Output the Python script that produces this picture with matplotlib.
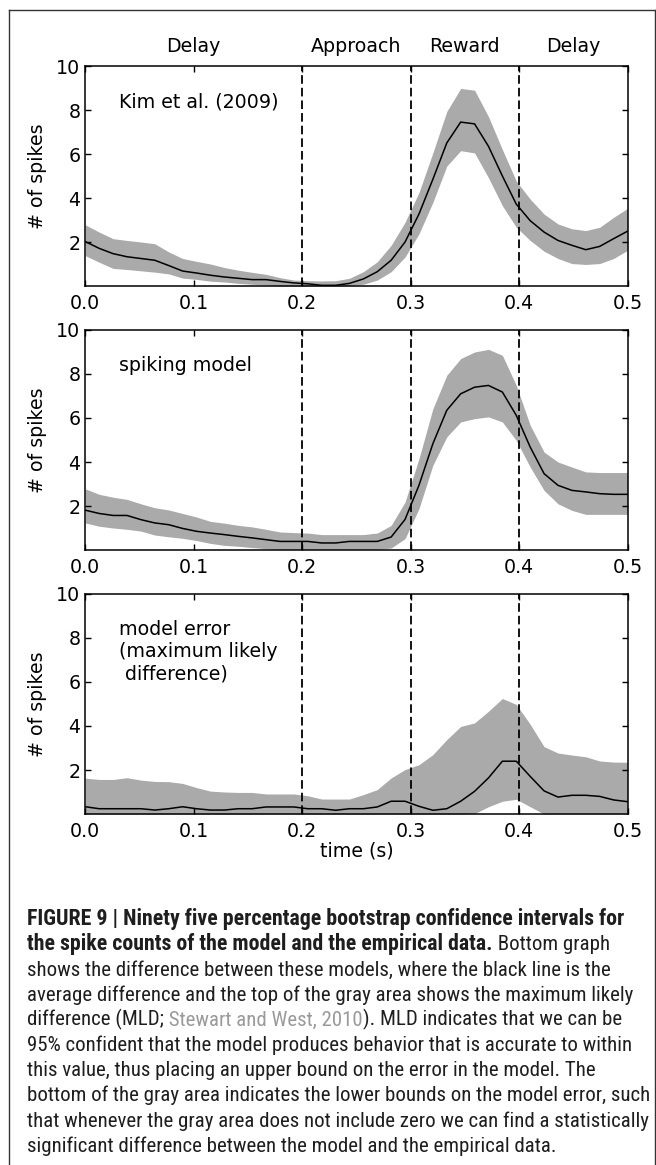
import numpy as np
import matplotlib
matplotlib.use("Agg")
import matplotlib.pyplot as plt
from matplotlib.lines import Line2D
import matplotlib.transforms as mtransforms
from matplotlib import font_manager as fm

plt.rcParams['font.family'] = ['DejaVu Sans']
plt.rcParams['lines.scale_dashes'] = False

# ---------------- data ----------------
time_s = np.linspace(0.0, 0.5, 40)

kim_mean = [2.02, 1.71, 1.47, 1.33, 1.25, 1.17, 0.93, 0.68, 0.59, 0.49,
            0.41, 0.35, 0.29, 0.29, 0.21, 0.14, 0.10, 0.03, 0.03, 0.12,
            0.32, 0.65, 1.17, 2.00, 3.27, 4.85, 6.50, 7.45, 7.37, 6.35,
            5.00, 3.72, 2.97, 2.45, 2.07, 1.85, 1.65, 1.80, 2.15, 2.49]
kim_upper = [2.78, 2.45, 2.15, 2.07, 2.00, 1.92, 1.55, 1.25, 1.12, 1.00,
             0.84, 0.72, 0.62, 0.53, 0.38, 0.27, 0.24, 0.23, 0.24, 0.35,
             0.65, 1.10, 1.85, 2.90, 4.25, 6.05, 7.93, 8.98, 8.90, 7.70,
             6.20, 4.77, 3.95, 3.27, 2.82, 2.60, 2.52, 2.67, 3.12, 3.53]
kim_lower = [1.38, 1.08, 0.80, 0.75, 0.69, 0.63, 0.55, 0.36, 0.30, 0.22,
             0.18, 0.12, 0.08, 0.05, 0.00, 0.00, 0.00, 0.00, 0.00, 0.02,
             0.08, 0.27, 0.65, 1.32, 2.37, 3.80, 5.45, 6.15, 6.05, 4.92,
             3.65, 2.67, 2.07, 1.58, 1.25, 1.02, 0.98, 1.02, 1.25, 1.62]

model_mean = [1.81, 1.66, 1.57, 1.57, 1.38, 1.23, 1.15, 0.98, 0.85, 0.77,
              0.70, 0.62, 0.55, 0.47, 0.39, 0.39, 0.39, 0.32, 0.32, 0.39,
              0.39, 0.39, 0.59, 1.39, 2.94, 4.83, 6.35, 7.10, 7.40, 7.48,
              7.18, 6.12, 4.68, 3.47, 2.94, 2.71, 2.64, 2.56, 2.53, 2.53]
model_upper = [2.78, 2.53, 2.40, 2.30, 2.10, 1.92, 1.82, 1.66, 1.50, 1.30,
               1.22, 1.12, 1.05, 0.94, 0.82, 0.79, 0.77, 0.70, 0.70, 0.70,
               0.70, 0.77, 1.12, 2.18, 4.15, 6.42, 7.94, 8.70, 9.00, 9.12,
               8.85, 7.48, 5.67, 4.45, 4.00, 3.77, 3.55, 3.52, 3.52, 3.52]
model_lower = [1.23, 1.08, 1.00, 0.94, 0.86, 0.68, 0.60, 0.53, 0.43, 0.30,
               0.21, 0.17, 0.11, 0.06, 0.03, 0.03, 0.03, 0.03, 0.03, 0.03,
               0.03, 0.03, 0.09, 0.52, 1.88, 3.85, 5.14, 5.82, 5.97, 6.05,
               5.82, 4.98, 3.77, 2.71, 2.10, 1.80, 1.62, 1.62, 1.62, 1.62]

error_mean = [0.33, 0.24, 0.24, 0.24, 0.24, 0.18, 0.24, 0.33, 0.24, 0.18,
              0.18, 0.24, 0.24, 0.32, 0.32, 0.32, 0.24, 0.24, 0.17, 0.24,
              0.24, 0.32, 0.58, 0.58, 0.35, 0.17, 0.24, 0.58, 1.03, 1.64,
              2.40, 2.40, 1.71, 1.05, 0.77, 0.85, 0.85, 0.80, 0.64, 0.56]
error_upper = [1.63, 1.57, 1.57, 1.65, 1.54, 1.48, 1.47, 1.39, 1.20, 1.04,
               1.00, 0.98, 0.98, 0.91, 0.91, 0.91, 0.83, 0.68, 0.68, 0.68,
               0.88, 1.11, 1.64, 2.02, 2.24, 2.70, 3.38, 3.98, 4.14, 4.67,
               5.25, 4.98, 4.08, 3.06, 2.77, 2.68, 2.60, 2.41, 2.36, 2.35]
error_lower = [0.00, 0.00, 0.00, 0.00, 0.00, 0.00, 0.00, 0.00, 0.00, 0.00,
               0.00, 0.00, 0.00, 0.00, 0.00, 0.00, 0.00, 0.00, 0.00, 0.00,
               0.00, 0.00, 0.00, 0.00, 0.00, 0.00, 0.00, 0.00, 0.02, 0.33,
               0.58, 0.67, 0.33, 0.00, 0.00, 0.00, 0.00, 0.00, 0.00, 0.00]

panel_titles = ['Kim et al. (2009)', 'spiking model',
                'model error\n(maximum likely\n difference)']
phase_labels = ['Delay', 'Approach', 'Reward', 'Delay']
phase_centers = [0.1, 0.25, 0.35, 0.45]
phase_bounds = [0.2, 0.3, 0.4]
xticks = [0.0, 0.1, 0.2, 0.3, 0.4, 0.5]
yticks = [2, 4, 6, 8, 10]
ylabel = '# of spikes'
xlabel = 'time (s)'

caption_lines = [
    [("FIGURE 9 | Ninety five percentage bootstrap confidence intervals for", 'bold', 'k')],
    [("the spike counts of the model and the empirical data.", 'bold', 'k'),
     (" Bottom graph", 'normal', 'k')],
    [("shows the difference between these models, where the black line is the", 'normal', 'k')],
    [("average difference and the top of the gray area shows the maximum likely", 'normal', 'k')],
    [("difference (MLD;", 'normal', 'k'), (" Stewart and West, 2010", 'normal', 'g'),
     ("). MLD indicates that we can be", 'normal', 'k')],
    [("95% confident that the model produces behavior that is accurate to within", 'normal', 'k')],
    [("this value, thus placing an upper bound on the error in the model. The", 'normal', 'k')],
    [("bottom of the gray area indicates the lower bounds on the model error, such", 'normal', 'k')],
    [("that whenever the gray area does not include zero we can find a statistically", 'normal', 'k')],
    [("significant difference between the model and the empirical data.", 'normal', 'k')],
]

# ---------------- layout ----------------
W, H = 656, 1165
fig = plt.figure(figsize=(W / 100, H / 100), dpi=100)

AX_L, AX_R = 85.3, 627.5
panel_tb = [(66, 286), (330, 550), (594, 814)]
FS = 13.7
BAND = '#aaaaaa'

series = [(kim_mean, kim_upper, kim_lower),
          (model_mean, model_upper, model_lower),
          (error_mean, error_upper, error_lower)]

axes = []
for k, ((top, bot), (m, up, lo)) in enumerate(zip(panel_tb, series)):
    ax = fig.add_axes([AX_L / W, 1 - bot / H, (AX_R - AX_L) / W, (bot - top) / H])
    axes.append(ax)
    ax.fill_between(time_s, lo, up, color=BAND, lw=0, zorder=1)
    ax.plot(time_s, m, color='k', lw=1.1, zorder=3)
    for b in phase_bounds:
        ax.axvline(b, color='k', lw=1.3, dashes=(6.2, 2.9), zorder=4)
    ax.set_xlim(0, 0.5)
    ax.set_ylim(0, 10)
    ax.set_xticks(xticks)
    ax.set_xticklabels(['%.1f' % v for v in xticks])
    ax.set_yticks(yticks)
    ax.set_yticklabels([str(v) for v in yticks])
    ax.tick_params(direction='in', length=4.6, width=1.0, top=True, right=True,
                   labelsize=FS, colors='k')
    ax.tick_params(axis='x', pad=6.0)
    ax.tick_params(axis='y', pad=3.5)
    for sp in ax.spines.values():
        sp.set_linewidth(1.1)
    ax.set_ylabel(ylabel, fontsize=FS)
    ax.yaxis.set_label_coords(-0.07, 0.5)
    ax.text(0.062, 0.88, panel_titles[k], transform=ax.transAxes, fontsize=FS,
            ha='left', va='top', linespacing=1.2)

trans = mtransforms.blended_transform_factory(axes[0].transData, axes[0].transAxes)
for lab, c in zip(phase_labels, phase_centers):
    axes[0].text(c, 1.065, lab, transform=trans, ha='center', va='baseline', fontsize=FS)

axes[2].set_xlabel(xlabel, fontsize=FS)
axes[2].xaxis.set_label_coords(0.5, -0.125)

# outer frame
FRAME = '#333333'
fig.add_artist(Line2D([8.8 / W, 8.8 / W], [0, 1 - 10 / H], transform=fig.transFigure,
                      color=FRAME, lw=1.0))
fig.add_artist(Line2D([8.8 / W, 655 / W], [1 - 10 / H, 1 - 10 / H], transform=fig.transFigure,
                      color=FRAME, lw=1.0))
fig.add_artist(Line2D([654.5 / W, 654.5 / W], [0, 1 - 10 / H], transform=fig.transFigure,
                      color=FRAME, lw=1.0))

# caption: pick a condensed sans family if one is installed
installed = {f.name for f in fm.fontManager.ttflist}
cap_choice = [n for n in ['Liberation Sans Narrow', 'Roboto Condensed', 'Open Sans Condensed',
                          'Noto Sans Condensed', 'DejaVu Sans Condensed', 'Roboto',
                          'Liberation Sans'] if n in installed]
cap_family = cap_choice[:1] + ['DejaVu Sans']
renderer = fig.canvas.get_renderer()


def measure(s, size, weight):
    t = fig.text(0, 0, s, fontsize=size, family=cap_family, weight=weight)
    w = t.get_window_extent(renderer).width
    t.remove()
    return w


cap_size = 13.0 * 619.0 / measure(caption_lines[8][0][0], 13.0, 'normal')
bold_size = cap_size * 600.0 / measure(caption_lines[0][0][0], cap_size, 'bold')
bold_size = min(bold_size, cap_size * 1.07)
colors = {'k': '#1e1e1e', 'g': '#9a9a9a'}
x0, base0, step = 27.2, 925.0, 25.2
for i, segs in enumerate(caption_lines):
    x = x0
    yb = base0 + i * step
    for s, wgt, col in segs:
        size = bold_size if wgt == 'bold' else cap_size
        t = fig.text(x / W, 1 - yb / H, s, fontsize=size, family=cap_family,
                     weight=wgt, color=colors[col], ha='left', va='baseline')
        x += t.get_window_extent(renderer).width

fig.savefig('out.png', dpi=100)
